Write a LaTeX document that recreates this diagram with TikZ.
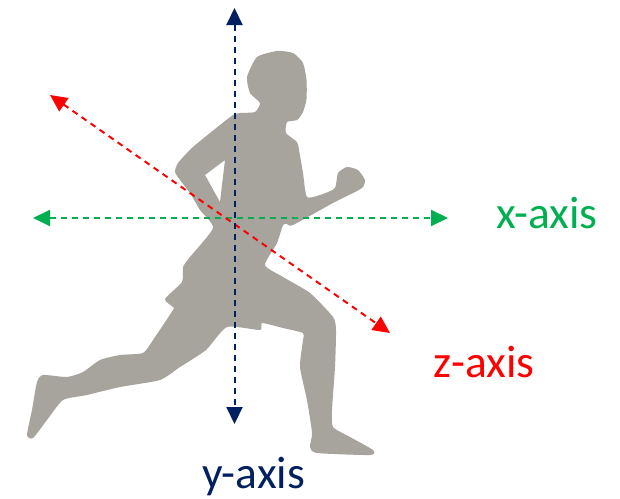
\documentclass[tikz,border=0pt]{standalone}
\usepackage{fontspec}
\setmainfont{Carlito}
\usetikzlibrary{arrows.meta}
\definecolor{axisnavy}{RGB}{0,32,96}
\definecolor{axisgreen}{RGB}{0,176,80}
\definecolor{axisred}{RGB}{255,0,0}
\definecolor{runnergray}{RGB}{166,164,156}
\tikzset{
  axisline/.style={line width=2pt, dash pattern=on 6pt off 5pt,
    {Triangle[length=17pt,width=16pt]}-{Triangle[length=17pt,width=16pt]}},
  axislabel/.style={font=\fontsize{45.5}{50}\selectfont, anchor=base west, inner sep=0pt},
  runner/.style={fill=runnergray, draw=none, even odd rule}
}
\begin{document}
\begin{tikzpicture}[x=1pt, y={(0pt,-1pt)}]
  \useasboundingbox (0,0) rectangle (620,498);
  \fill[white] (0,0) rectangle (620,498);

  % runner silhouette, with the gap between the back arm and the torso
  \fill[runner]
    plot[smooth cycle, tension=0.35] coordinates {
      (277,51) (293,53) (303,63) (306.5,80) (306.5,99) (303,112) (297,120)
      (287,122) (286,133) (297,142) (299,150) (303,173) (307,197)
      (323,194) (335,188) (338,173) (347,167) (358,170) (365,180) (363,187)
      (357,191) (333,203) (293,225) (287,224) (283,225)
      (277,243) (265,265) (283,277) (310,293) (333,317) (336,330)
      (335,367) (332,410) (333,427) (350,437) (373,450) (370,455)
      (317,453) (310,447) (312,433) (307,400) (300,367) (303,340)
      (303,333) (283,328) (262,323) (260,330) (227,327)
      (206,350) (180,367) (160,380) (120,387) (87,395) (63,400)
      (47,420) (33,438) (27,435) (32,410) (37,382) (43,375)
      (67,377) (83,372) (100,360) (120,355) (143,353) (153,340)
      (173,310) (173,307) (165,299) (182,282) (183,267) (190,257)
      (213,228) (200,210) (190,193) (180,180) (175,172) (178,163)
      (193,147) (220,125) (233,115) (240,113) (255,112) (260,103)
      (250,93) (247,77) (257,57)
    }
    plot[sharp cycle] coordinates {(205,175) (225,160) (222,185) (220,202)};

  % axis end points
  \coordinate (ytop) at (234.5,8);
  \coordinate (ybot) at (234.5,424);
  \coordinate (xleft) at (33,218);
  \coordinate (xright) at (448,218);
  \coordinate (zback) at (50,95);
  \coordinate (zfront) at (390,333);

  \draw[axisline, axisgreen] (xleft) -- (xright);
  \draw[axisline, axisred] (zback) -- (zfront);
  \draw[axisline, axisnavy] (ytop) -- (ybot);

  \node[axislabel, text=axisgreen] (xlabel) at (496,228) {x-axis};
  \node[axislabel, text=axisred] (zlabel) at (433,377) {z-axis};
  \node[axislabel, text=axisnavy] (ylabel) at (202,488) {y-axis};
\end{tikzpicture}
\end{document}
